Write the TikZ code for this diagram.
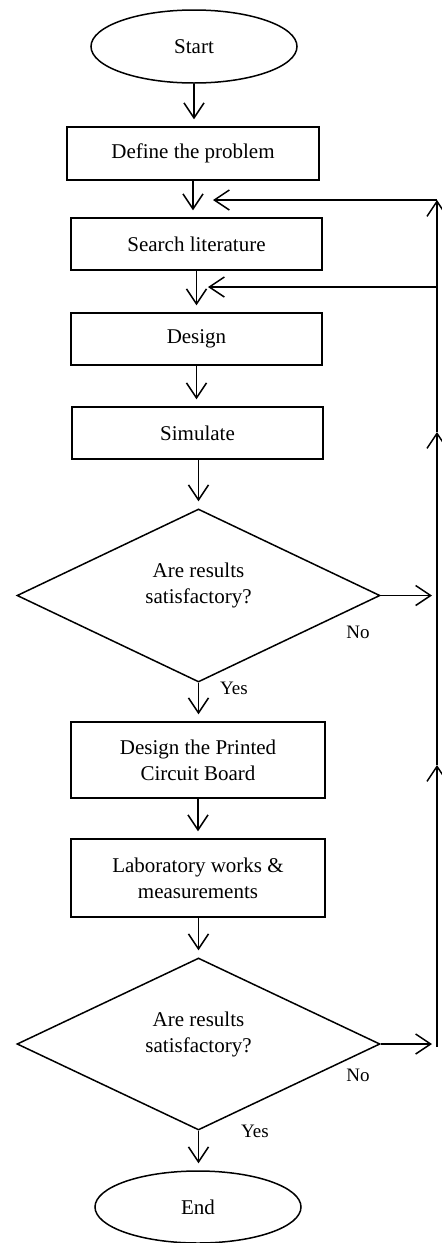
\documentclass[tikz,border=0pt]{standalone}
\usepackage{fontspec}
\setmainfont{Liberation Serif}
\usetikzlibrary{shapes.geometric,arrows.meta}
\begin{document}
\begin{tikzpicture}[x=1pt,y=-1pt,
  every node/.style={font=\fontsize{21}{26}\selectfont, inner sep=0pt, align=center},
  term/.style={draw, ellipse, line width=1.5pt, minimum width=206pt, minimum height=73pt},
  proc/.style={draw, rectangle, line width=1.5pt, minimum width=252pt, minimum height=52pt},
  dec/.style={draw, diamond, line width=1.5pt, minimum width=363pt, minimum height=173pt, aspect=2.1},
  lbl/.style={font=\fontsize{19}{22}\selectfont},
  flow/.style={line width=1.5pt, -{Straight Barb[length=15pt,width=20pt]}},
  gap/.style={shorten >=7pt},
]
\useasboundingbox (0,0) rectangle (442,1243);

\node[term] (start) at (194,46.5) {Start};
\node[proc, minimum height=53pt] (define) at (193,153.5) {Define the problem};
\node[proc, minimum width=251pt] (search) at (196.5,244) {Search literature};
\node[proc, minimum width=251pt] (design) at (196.5,339) {Design};
\node[proc, minimum width=251pt] (sim) at (197.5,433) {Simulate};
\node[dec] (d1) at (198.5,595.5) {};
\node (q1) at ([yshift=10pt]d1.center) {Are results\\satisfactory?};
\node[proc, minimum width=254pt, minimum height=76pt] (pcb) at (198,760) {Design the Printed\\Circuit Board};
\node[proc, minimum width=254pt, minimum height=78pt] (lab) at (198,878) {Laboratory works \&\\measurements};
\node[dec, minimum height=172pt] (d2) at (198.5,1044) {};
\node (q2) at ([yshift=10pt]d2.center) {Are results\\satisfactory?};
\node[term, minimum height=72pt] (end) at (198,1207) {End};

\node[lbl] (no1) at (358,632) {No};
\node[lbl] (yes1) at (234,688) {Yes};
\node[lbl] (no2) at (358,1075) {No};
\node[lbl] (yes2) at (255,1131) {Yes};

% main flow
\draw[flow, gap] (start.south) -- (start.south |- define.north);
\draw[flow, gap] (define.south) -- (define.south |- search.north);
\draw[flow, gap] (search.south) -- (search.south |- design.north);
\draw[flow, gap] (design.south) -- (design.south |- sim.north);
\draw[flow, gap] (sim.south -| d1.north) -- (d1.north);
\draw[flow, gap] (d1.south) -- (d1.south |- pcb.north);
\draw[flow, gap] (pcb.south) -- (pcb.south |- lab.north);
\draw[flow, gap] (lab.south -| d2.north) -- (d2.north);
\draw[flow, gap] (d2.south) -- (d2.south |- end.north);

% feedback loop
\coordinate (v1) at (437,1047);
\coordinate (v2) at (437,765);
\coordinate (v3) at (437,432);
\coordinate (v4) at (437,200);
\coordinate (m2) at (436,287);
\coordinate (b1) at (213,200);
\coordinate (b2) at (208,287);

\draw[flow, shorten >=5pt] (d1.east) -- (d1.east -| v1);
\draw[flow, shorten >=5pt] (d2.east) -- (d2.east -| v1);
\draw[flow] (v1) -- (v2);
\draw[flow] (v2) -- (v3);
\draw[flow] (v3) -- (v4);
\draw[flow] (v4) -- (b1);
\draw[flow] (m2) -- (b2);
\end{tikzpicture}
\end{document}
